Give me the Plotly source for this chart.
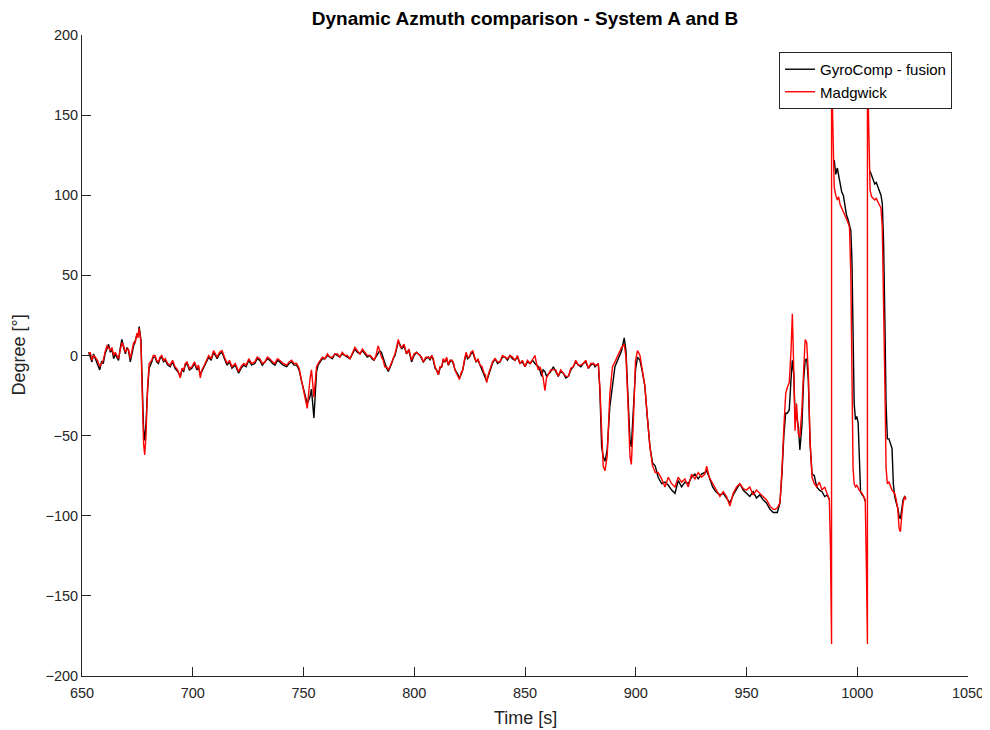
import plotly.graph_objects as go

# ---- data ----
time_s = [
    653, 653.7, 654.5, 655.2, 656, 657, 658, 658.8, 659.6, 660.4, 661.3, 662, 662.8, 663.5, 664.3, 665, 665.7,
    666.5, 667.2, 668, 668.8, 669.6, 670.3, 671, 671.8, 672.5, 673.3, 674, 674.8, 675.3, 675.8,
    676.6, 677.2, 677.8, 678.3, 678.9, 679.6, 680.3,
    681.5, 682.2, 683, 683.7, 684.5, 685.2, 686, 686.8, 687.6, 688.7, 689.8, 690.9, 692, 693.2, 694.4, 695.1,
    695.9, 696.6, 697.4, 698.5, 699.6, 700.8, 701.9, 702.6, 703.4, 704.1, 704.9, 706, 707.2, 708.3, 709.4,
    710.2, 711, 712.1, 713.2, 714.3, 715.5, 716.6, 717.7, 719.2, 720.7, 721.8, 723, 724.1, 725.3,
    726.6, 728, 729.1, 730.3, 731.4, 732.6, 733.7, 734.8, 736, 737.1, 738.2, 739.3, 740.8, 742.4, 743.5,
    744.6, 745.7, 746.9, 748, 749.1, 750.6, 751.7, 752.9, 753.6, 754.7, 755.9, 756.6, 757.4, 758.5, 759.7,
    760.8, 761.9, 763, 764.2, 765.3, 766.4, 767.5, 768.7, 769.8, 771, 772.1, 773.2, 774.3, 775.5, 776.6,
    777.7, 778.8, 780, 780.9, 781.8, 782.7, 783.7, 784.4, 785.2, 786, 786.7, 787.5, 788.3, 789, 789.8,
    790.5, 791.3, 792, 792.8, 793.5, 794.3, 795.4, 796.5, 797.6, 798.8, 799.9, 801,
    802.6, 803.3, 804.1, 805.2, 806.4, 807.1, 807.9, 808.6, 809.4, 810.1, 810.9, 811.6, 812.4, 813.1, 813.9,
    814.6, 815.4, 816.1, 816.9, 817.6, 818.4, 819.4, 820.4, 821.1, 821.9, 822.6, 823.4, 824.1, 824.9, 825.6,
    826.4, 827.1, 827.9, 828.8, 829.7, 830.6, 831.5, 832.1, 832.7, 833.4, 834.2, 835.3, 836.5, 837.6, 838.7,
    839.8, 841, 842.1, 843.2, 844.3, 845.5, 846.6, 847.7, 848.8, 850, 851.1, 852.3, 853.4, 854.5, 855.2,
    856, 856.7, 857.5, 858.2, 859, 859.7, 860.5, 861.6, 862.8, 863.9, 865, 866.1, 867.3, 868.4, 869.6,
    870.7, 871.8, 872.9, 874.1, 875.2, 876.3, 877.4, 878.6, 879.7, 880.9, 881.6, 882.4,
    883.1, 883.8, 884.6, 885.3, 886.1, 887.1, 888.3, 889.5, 890.6, 892.1, 893.6, 894.8, 895.6, 896.5, 897.4,
    898, 898.9, 899.9, 900.8, 901.9, 903.1, 904.1, 905.2, 906.4, 907.6, 908.8,
    910.1, 911.7, 913.2, 914.7, 916.2, 917.7, 919.2, 920.7, 922.2, 923.7, 925.2, 926.7, 928.2, 929.7, 931.2,
    932, 933.2, 934.7, 936.2, 938, 939.5, 941, 942.5, 944, 945.5, 947, 948.5, 950, 951.5, 953, 954.5, 956,
    957.5, 959, 960.6, 962.1,
    962.9, 963.9, 965.1, 966, 966.9, 967.7, 968.4, 969.3, 970.1, 970.7, 971.3, 971.9, 972.6, 973.4, 974.1,
    975, 975.8, 976.5, 977.2, 977.9, 978.7, 979.6, 980.6, 981.7, 982.9, 984.1, 985.3, 986.5, 987.4,
    987.9, 988.4, 988.4, 989.0, 989.6, 990.3, 991.0, 991.6, 992.3, 993.0, 993.7, 994.4, 995.1, 995.8, 996.5,
    997.1, 997.6, 998.1, 998.6, 999.2, 999.8, 1000.4, 1000.9, 1001.5, 1002.2, 1002.9, 1003.6,
    1004.1, 1004.6, 1004.6, 1005.2, 1005.8, 1006.5, 1007.2, 1007.9, 1008.6, 1009.3, 1010.0, 1010.7, 1011.3,
    1011.9, 1012.5, 1013.0, 1013.6, 1014.3, 1015.0, 1015.7, 1016.3, 1016.9, 1017.6, 1018.3, 1018.9, 1019.5,
    1020.1, 1020.7, 1021.4, 1022,
]

# None = no black sample at the azimuth wrap (drawn only by the red series)
gyrocomp_deg = [
    2, -1, -4, 1, -2, -5, -9, -4, -5, 1, 5, 7, 2, 4, -2, 1, -1,
    -3, 4, 10, 5, 1, 5, 3, -4, 2, 6, 9, 13, 12, 18,
    10, -22, -46, -53, -42, -22, -8,
    -4, -1, -1, -4, -5, -2, -1, -4, -3, -6, -7, -4, -8, -10, -13, -9,
    -10, -6, -5, -9, -8, -5, -9, -7, -12, -10, -8, -5, -1, -3, 2,
    0, -2, 1, 2, -2, -6, -4, -8, -6, -11, -8, -6, -7, -3,
    -6, -5, -2, -3, -6, -4, -2, -3, -5, -6, -3, -4, -6, -7, -5,
    -4, -6, -6, -9, -16, -25, -30, -26, -21, -39, -10, -6, -4, -2, -2,
    0, -1, -2, 1, 0, -1, 1, 0, -1, -2, 1, 4, 2, 1, 3,
    1, -1, 0, -2, -3, -1, 1, 3, 2, -2, -5, -8, -10, -8, -5,
    -2, 0, 4, 9, 7, 4, 6, 1, 3, -4, 0, 2,
    0, -2, -4, -2, -1, -3, 0, -3, -8, -9, -12, -8, -7, -3, -4,
    -2, -6, -4, -3, -5, -9, -11, -14, -12, -9, -4, 1, -2, -1, 1,
    2, -1, -4, -3, -6, -8, -11, -13, -16, -13, -9, -5, -2, -5, -4,
    -1, -1, -3, 0, -2, -3, -1, -5, -4, -7, -4, -5, -3, -5, -6,
    -7, -9, -13, -9, -10, -13, -12, -10, -7, -10, -13, -10, -11, -14, -13,
    -9, -7, -4, -6, -7, -5, -4, -8, -6, -5, -7, -6,
    -5, -22, -57, -63, -66, -59, -32, -19, -7, -2, 3, 11, 3, -26, -53,
    -57, -36, -9, -1, -3, -11, -19, -38, -57, -67, -69,
    -76, -80, -79, -81, -84, -86, -78, -82, -79, -80, -76, -74, -77, -74, -73,
    -72, -76, -82, -85, -87, -86, -89, -92, -87, -83, -80, -84, -86, -88, -85, -89, -87,
    -90, -92, -96, -98,
    -98, -98, -92, -74, -49, -36, -36, -34, -15, -3, -11, -36, -38, -44, -59,
    -44, -15, -3, -2, -15, -55, -74, -75, -82, -84, -85, -88, -87, -90,
    None, None, None, None, 122, 113, 117, 113, 108, 102, 100, 93, 88, 85, 82,
    78, 60, 20, -30, -40, -38, -42, -70, -85, -87, -88, -91,
    None, None, None, None, 115, 112, 110, 107, 108, 105, 103, 100, 95,
    70, 20, -30, -52, -52, -55, -58, -80, -88, -92, -95, -100, -102,
    -96, -90, -88, -89,
]

madgwick_deg = [
    1, 2, -3, 0, -1, -3, -7, -5, -3, 2, 6, 5, 3, 5, 0, 2, 0,
    -2, 3, 8, 6, 2, 4, 4, -2, 3, 8, 8, 14, 11, 17,
    8, -26, -55, -62, -50, -20, -5,
    -3, 0, 0, -3, -4, -1, 0, -3, -2, -5, -6, -3, -7, -9, -14, -8,
    -9, -5, -4, -8, -7, -4, -8, -6, -14, -9, -7, -4, 0, -2, 3,
    1, -1, 2, 3, -1, -5, -3, -7, -5, -10, -7, -5, -6, -2,
    -5, -4, -1, -2, -5, -4, -1, -2, -4, -5, -2, -3, -5, -6, -4,
    -3, -5, -5, -8, -15, -24, -33, -15, -9, -26, -7, -5, -3, -1, -2,
    1, -1, -1, 1, 1, -1, 2, 0, 0, -2, 2, 5, 3, 1, 4,
    2, 0, 0, -1, -3, 0, 6, 2, -1, -3, -7, -7, -9, -7, -4,
    -1, 1, 5, 10, 6, 5, 7, 1, 4, -3, 1, 2,
    0, -1, -4, -1, -1, -2, 0, -2, -7, -9, -12, -7, -7, -2, -4,
    -1, -6, -3, -3, -4, -9, -12, -15, -11, -9, -3, 2, -1, -1, 2,
    3, 0, -4, -2, -6, -7, -11, -12, -17, -12, -9, -4, -2, -4, -4,
    0, -1, -2, 0, -1, -3, 0, -5, -3, -7, -3, -5, -2, 0, -5,
    -9, -7, -10, -14, -22, -14, -12, -9, -9, -9, -13, -9, -11, -13, -13,
    -8, -7, -3, -6, -6, -5, -3, -8, -5, -5, -6, -6,
    -5, -20, -53, -69, -72, -63, -24, -7, -4, 1, 5, 7, -1, -30, -63,
    -68, -42, -3, 3, 0, -9, -19, -38, -57, -69, -73,
    -73, -77, -82, -76, -80, -82, -76, -79, -77, -82, -74, -77, -73, -76, -74,
    -69, -76, -80, -83, -88, -85, -88, -94, -86, -82, -80, -83, -84, -82, -87, -84, -86,
    -88, -90, -94, -96,
    -96, -95, -92, -72, -44, -24, -20, -17, 3, 26, -7, -47, -30, -49, -51,
    -34, -9, 10, 8, -11, -53, -76, -80, -82, -79, -84, -82, -86, -90,
    -120, -180, 180, 150, 105, 100, 97, 99, 94, 92, 90, 87, 86, 83, 80,
    50, -10, -70, -80, -82, -81, -83, -84, -85, -86, -88, -90,
    -130, -180, 180, 140, 103, 99, 98, 97, 98, 96, 95, 92, 80,
    40, -20, -70, -80, -79, -82, -84, -85, -86, -90, -96, -108, -110,
    -100, -92, -88, -90,
]

x_ticks = [650, 700, 750, 800, 850, 900, 950, 1000, 1050]
y_ticks = [-200, -150, -100, -50, 0, 50, 100, 150, 200]

title_text = "Dynamic Azmuth comparison - System A and B"
x_label = "Time [s]"
y_label = "Degree [°]"
series_names = ["GyroComp - fusion", "Madgwick"]
series_colors = ["#000000", "#ff0000"]

AX = "#262626"
FONT = "Liberation Sans, Arial, sans-serif"

# page has an 8px body margin, so the figure is sized/placed to compensate
W, H = 982, 722
ML, MT, PW, PH = 74, 27, 886, 641

fig = go.Figure()
for name, vals, col in zip(series_names, [gyrocomp_deg, madgwick_deg], series_colors):
    fig.add_trace(go.Scatter(x=time_s, y=vals, mode="lines", name=name,
                             connectgaps=False, line=dict(color=col, width=1.4)))

axis_common = dict(showline=True, linecolor=AX, linewidth=1, mirror=False,
                   ticks="inside", ticklen=9, tickwidth=1, tickcolor=AX,
                   showgrid=False, zeroline=False, automargin=False,
                   tickfont=dict(family=FONT, size=14.5, color=AX))

fig.update_layout(
    width=W, height=H,
    margin=dict(l=ML, r=W - ML - PW, t=MT, b=H - MT - PH, pad=0),
    paper_bgcolor="white", plot_bgcolor="white",
    font=dict(family=FONT, color=AX),
    title=dict(text="<b>" + title_text + "</b>", x=0.5, xref="paper", xanchor="center",
               y=1 - 10 / H, yref="container", yanchor="middle",
               font=dict(family=FONT, size=19, color="#000000")),
    xaxis=dict(range=[650, 1050], tickvals=x_ticks, ticklabelstandoff=4, **axis_common),
    yaxis=dict(range=[-200, 200], tickvals=y_ticks, **axis_common),
    legend=dict(x=0.982, y=0.9735, xanchor="right", yanchor="top",
                bgcolor="white", bordercolor=AX, borderwidth=1,
                font=dict(family=FONT, size=15, color="#000000"), tracegroupgap=0),
    showlegend=True,
    annotations=[
        dict(text=x_label, x=0.5, y=0, xref="paper", yref="paper", showarrow=False,
             xanchor="center", yanchor="middle", yshift=-42,
             font=dict(family=FONT, size=18, color=AX)),
        dict(text=y_label, x=0, y=0.5, xref="paper", yref="paper", showarrow=False,
             xanchor="center", yanchor="middle", xshift=-64, textangle=-90,
             font=dict(family=FONT, size=18, color=AX)),
    ],
)

fig.write_html("out.html")
